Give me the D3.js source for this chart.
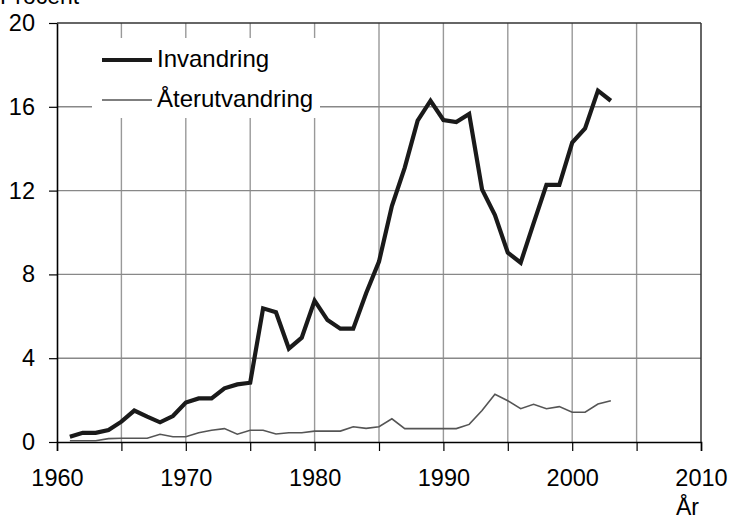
<!DOCTYPE html>
<html>
<head>
<meta charset="utf-8">
<script src="https://cdn.jsdelivr.net/npm/d3@7"></script>
<style>
	html, body { margin: 0; padding: 0; background: #fff; }
	svg { display: block; font-family: "Liberation Sans", Arial, sans-serif; }
</style>
</head>
<body>
<script>
const years = d3.range(1961, 2004);
const invandring = [
	0.25, 0.44, 0.44, 0.57, 0.97, 1.5, 1.21, 0.94, 1.24, 1.88,
	2.08, 2.08, 2.56, 2.75, 2.83, 6.38, 6.19, 4.46, 4.98, 6.75,
	5.82, 5.41, 5.41, 7.1, 8.61, 11.26, 13.1, 15.34, 16.29, 15.37,
	15.27, 15.66, 12.06, 10.83, 9.04, 8.56, 10.44, 12.27, 12.27, 14.29,
	14.97, 16.77, 16.29
];
const aterutvandring = [
	0.06, 0.06, 0.06, 0.16, 0.18, 0.18, 0.18, 0.37, 0.25, 0.25,
	0.44, 0.56, 0.64, 0.37, 0.56, 0.56, 0.38, 0.44, 0.44, 0.52,
	0.52, 0.52, 0.73, 0.65, 0.73, 1.11, 0.64, 0.64, 0.64, 0.64,
	0.64, 0.84, 1.5, 2.28, 1.97, 1.59, 1.8, 1.59, 1.69, 1.42,
	1.42, 1.81, 1.97
];
const xTicks = [1960, 1965, 1970, 1975, 1980, 1985, 1990, 1995, 2000, 2005, 2010];
const xLabels = [1960, 1970, 1980, 1990, 2000, 2010];
const yTicks = [0, 4, 8, 12, 16, 20];
const seriesNames = ["Invandring", "Återutvandring"];

const width = 730, height = 519;

const svg = d3.select("body").append("svg")
	.attr("width", width)
	.attr("height", height);

const x = d3.scaleLinear().domain([1960, 2010]).range([57, 701]);
const y = d3.scaleLinear().domain([0, 20]).range([442, 23]);

// grid
svg.append("g").selectAll("line")
	.data(xTicks.slice(1, -1))
	.enter().append("line")
	.attr("x1", d => x(d)).attr("x2", d => x(d))
	.attr("y1", y(20)).attr("y2", y(0))
	.attr("stroke", "#999").attr("stroke-width", 1.4);

svg.append("g").selectAll("line")
	.data(yTicks.slice(1, -1))
	.enter().append("line")
	.attr("x1", x(1960)).attr("x2", x(2010))
	.attr("y1", d => y(d)).attr("y2", d => y(d))
	.attr("stroke", "#888").attr("stroke-width", 1.4);

// frame top / right
svg.append("line")
	.attr("x1", x(1960)).attr("x2", x(2010))
	.attr("y1", y(20)).attr("y2", y(20))
	.attr("stroke", "#333").attr("stroke-width", 1.5);
svg.append("line")
	.attr("x1", x(2010)).attr("x2", x(2010))
	.attr("y1", y(20)).attr("y2", y(0))
	.attr("stroke", "#333").attr("stroke-width", 1.5);

// axes
const xAxis = svg.append("g")
	.attr("transform", `translate(0,${y(0)})`)
	.call(d3.axisBottom(x).tickValues(xTicks).tickSize(9)
		.tickFormat(d => xLabels.includes(d) ? d : ""));
xAxis.select(".domain").attr("stroke", "#000").attr("stroke-width", 1.6);
xAxis.selectAll(".tick line").attr("stroke", "#000").attr("stroke-width", 1.2);
xAxis.selectAll(".tick text")
	.attr("font-size", 23.5).attr("font-family", "Liberation Sans, Arial, sans-serif")
	.attr("fill", "#000").attr("dy", null).attr("y", 44);

const yAxis = svg.append("g")
	.attr("transform", `translate(${x(1960)},0)`)
	.call(d3.axisLeft(y).tickValues(yTicks).tickSize(8).tickSizeOuter(0));
yAxis.select(".domain").attr("stroke", "#000").attr("stroke-width", 1.6);
yAxis.selectAll(".tick line").attr("stroke", "#000").attr("stroke-width", 1.2);
yAxis.selectAll(".tick text")
	.attr("font-size", 23.5).attr("font-family", "Liberation Sans, Arial, sans-serif")
	.attr("fill", "#000").attr("x", -22);

// series
const line = d3.line().x((d, i) => x(years[i])).y(d => y(d));

svg.append("path")
	.datum(aterutvandring)
	.attr("fill", "none")
	.attr("stroke", "#555")
	.attr("stroke-width", 1.6)
	.attr("d", line);

svg.append("path")
	.datum(invandring)
	.attr("fill", "none")
	.attr("stroke", "#1a1a1a")
	.attr("stroke-width", 4.2)
	.attr("stroke-linejoin", "miter")
	.attr("d", line);

// legend
const legend = svg.append("g");
legend.append("rect")
	.attr("x", 92).attr("y", 38).attr("width", 228).attr("height", 80)
	.attr("fill", "#fff");

const legendItems = legend.selectAll("g.item")
	.data(seriesNames)
	.enter().append("g")
	.attr("class", "item")
	.attr("transform", (d, i) => `translate(102,${60 + i * 40})`);

legendItems.append("line")
	.attr("x1", 0).attr("x2", 50)
	.attr("stroke", (d, i) => i === 0 ? "#1a1a1a" : "#555")
	.attr("stroke-width", (d, i) => i === 0 ? 4.2 : 1.6);

legendItems.append("text")
	.attr("x", 55).attr("dy", "0.3em")
	.attr("font-size", 24)
	.attr("fill", "#000")
	.text(d => d);

// axis titles
svg.append("text")
	.attr("x", 0).attr("y", 4)
	.attr("font-size", 23)
	.text("Procent");

svg.append("text")
	.attr("x", 699).attr("y", 515)
	.attr("text-anchor", "end")
	.attr("font-size", 23)
	.text("År");
</script>
</body>
</html>
